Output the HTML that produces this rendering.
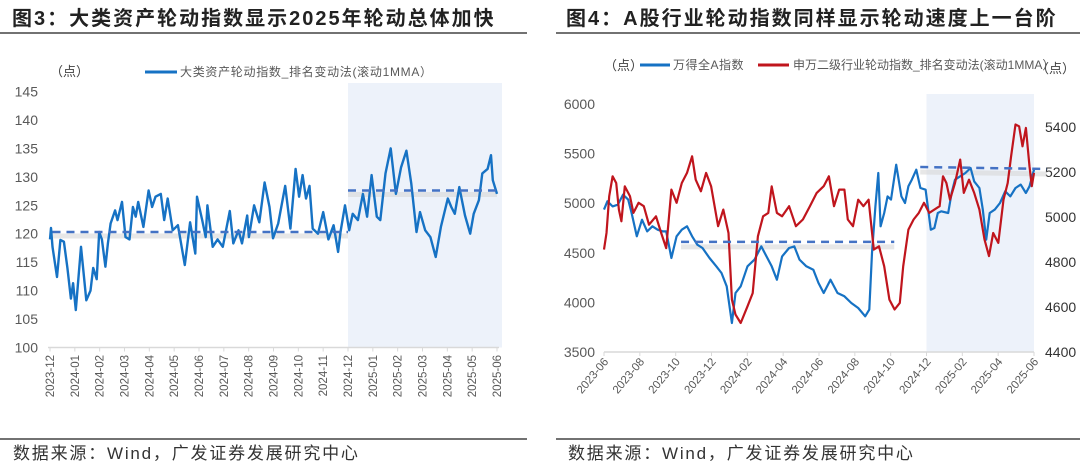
<!DOCTYPE html>
<html><head><meta charset="utf-8">
<style>
body{margin:0;background:#fff;width:1080px;height:469px;overflow:hidden;font-family:"Liberation Sans","Noto Sans CJK SC",sans-serif;}
svg{position:absolute;left:0;top:0}
</style></head>
<body>
<svg id="chart" width="1080" height="469" viewBox="0 0 1080 469">
  <text x="12" y="25" font-size="20" font-weight="bold" letter-spacing="2" fill="#222" font-family="Liberation Sans,Noto Sans CJK SC,sans-serif">图3：大类资产轮动指数显示2025年轮动总体加快</text>
  <text x="566" y="25" font-size="20" font-weight="bold" letter-spacing="2" fill="#222" font-family="Liberation Sans,Noto Sans CJK SC,sans-serif">图4：A股行业轮动指数同样显示轮动速度上一台阶</text>
  <line x1="0" y1="33" x2="527" y2="33" stroke="#444" stroke-width="1.5"/>
  <line x1="556" y1="33" x2="1080" y2="33" stroke="#444" stroke-width="1.5"/>
  <line x1="0" y1="439" x2="527" y2="439" stroke="#444" stroke-width="1.5"/>
  <line x1="556" y1="439" x2="1080" y2="439" stroke="#444" stroke-width="1.5"/>
  <text x="13" y="459" font-size="17" letter-spacing="1.8" fill="#333" font-family="Liberation Sans,Noto Sans CJK SC,sans-serif">数据来源：Wind，广发证券发展研究中心</text>
  <text x="568" y="459" font-size="17" letter-spacing="1.8" fill="#333" font-family="Liberation Sans,Noto Sans CJK SC,sans-serif">数据来源：Wind，广发证券发展研究中心</text>
  <g id="left"></g>
  <g id="right"></g>
</svg>
<script>
// ---------- Left chart data ----------
const leftMonths = ["2023-12","2024-01","2024-02","2024-03","2024-04","2024-05","2024-06","2024-07","2024-08","2024-09","2024-10","2024-11","2024-12","2025-01","2025-02","2025-03","2025-04","2025-05","2025-06"];
const leftYTicks = [100,105,110,115,120,125,130,135,140,145];
const leftT = [0,.04,.1,.28,.42,.56,.7,.84,.93,1.04,1.25,1.46,1.63,1.74,1.88,1.98,2.09,2.23,2.33,2.44,2.62,2.72,2.9,3.04,3.2,3.34,3.45,3.55,3.76,3.97,4.11,4.25,4.46,4.6,4.74,4.94,5.15,5.43,5.64,5.85,5.92,6.13,6.27,6.34,6.55,6.75,6.96,7.24,7.38,7.59,7.73,7.94,8.01,8.22,8.43,8.64,8.84,8.98,9.19,9.47,9.68,9.89,10.03,10.17,10.31,10.45,10.58,10.79,11,11.21,11.42,11.6,11.7,11.88,12.05,12.19,12.4,12.6,12.77,12.95,13.16,13.3,13.51,13.72,13.93,14.14,14.35,14.55,14.76,14.9,15.11,15.32,15.53,15.74,16.02,16.16,16.3,16.48,16.71,16.92,17.06,17.27,17.41,17.62,17.76,17.83,18];
const leftVals = [119,121,117.7,112.4,118.9,118.6,114,108.6,111.3,106.6,117.7,108.3,110,114,112,120.3,119,114.2,118.3,121.8,124.1,122.4,125.6,119.4,119,124.7,123,125.6,121.2,127.6,124.7,126.5,127,122.4,126.2,120.6,121.5,114.5,122,116.5,126.5,122.4,119.4,125,117.7,119,117.7,124,118.3,120.6,118.3,123.2,119.4,125,122,129,124.7,119.2,121.8,128.4,120.9,131.4,126.5,130.3,126.2,128.4,120.9,120,123.8,119,121.5,116.8,120.3,125,120.6,123.5,122.4,127,123,130.3,123,122.4,130.6,135,127,131.7,134.6,128.8,120.3,123.8,120.6,119.4,115.9,121.2,126.2,124.7,123.5,128.2,123.2,120,123.5,125.9,130.6,131.4,133.8,129.4,127];
const leftAvgPeriods = [[0.1,12.0,120.3],[12.0,18.0,127.6]];

// ---------- Right chart data ----------
const rightMonths = ["2023-06","2023-08","2023-10","2023-12","2024-02","2024-04","2024-06","2024-08","2024-10","2024-12","2025-02","2025-04","2025-06"];
const rightYTicksL = [3500,4000,4500,5000,5500,6000];
const rightYTicksR = [4400,4600,4800,5000,5200,5400];
const windT = [0,.19,.48,.77,1.06,1.35,1.54,1.83,2.12,2.41,2.7,2.99,3.28,3.47,3.76,4.05,4.34,4.63,4.92,5.21,5.5,5.89,6.27,6.56,6.85,7.14,7.34,7.63,8.01,8.4,8.78,9.07,9.36,9.65,9.94,10.33,10.62,10.91,11.29,11.68,11.97,12.26,12.64,13.03,13.42,13.8,14.19,14.58,14.81,14.96,15.15,15.31,15.44,15.64,15.83,16.02,16.31,16.6,16.8,16.99,17.18,17.43,17.66,17.95,18.24,18.44,18.63,18.82,19.21,19.4,19.59,19.88,20.17,20.46,20.66,20.95,21.14,21.33,21.53,21.81,22.1,22.39,22.68,22.97,23.26,23.55,23.75,24];
const windVals = [4935,5019,4968,4985,5086,5036,4901,4666,4834,4716,4767,4733,4716,4716,4448,4666,4733,4767,4666,4582,4548,4448,4364,4296,4162,3792,4095,4162,4364,4431,4565,4464,4364,4229,4464,4548,4565,4431,4364,4330,4196,4095,4229,4095,4061,3994,3944,3860,3927,4498,4968,5304,4767,4901,5069,5036,5388,5069,5002,5170,5237,5338,5153,5136,4733,4750,4901,4918,4901,5103,5237,5271,5304,5355,5220,5153,4935,4632,4901,4935,5002,5120,5069,5153,5187,5103,5170,5338];
const rotT = [0,.14,.29,.48,.68,.83,.97,1.16,1.45,1.64,1.93,2.22,2.51,2.9,3.19,3.47,3.76,4.05,4.34,4.63,4.92,5.12,5.41,5.7,5.98,6.37,6.66,6.95,7.14,7.34,7.63,8.01,8.3,8.59,8.88,9.17,9.36,9.65,9.94,10.33,10.71,11.1,11.49,11.87,12.26,12.55,12.84,13.13,13.42,13.61,13.9,14.19,14.48,14.77,15.06,15.35,15.64,15.93,16.22,16.51,16.7,16.99,17.28,17.57,17.86,18.15,18.44,18.73,18.92,19.11,19.31,19.59,19.88,20.08,20.37,20.66,20.95,21.24,21.49,21.72,22.01,22.3,22.53,22.72,22.97,23.17,23.36,23.55,23.75,23.88,24];
const rotVals = [4855,4929,5092,5181,5151,5033,4981,5136,5092,5018,5063,5048,4966,5003,4929,4862,5122,5063,5151,5196,5270,5166,5114,5196,5137,4959,5033,4929,4633,4566,4529,4603,4662,4914,5003,5018,5136,5018,5003,5048,4959,4989,5048,5107,5137,5181,5048,5122,5122,4989,4959,5077,5048,5077,4855,4870,4781,4633,4589,4618,4781,4944,4989,5018,5063,5018,5033,5048,5181,5151,5077,5151,5255,5107,5166,5107,5033,4900,4826,4929,4885,5077,5151,5270,5411,5403,5314,5396,5225,5137,5196];
const rightAvgPeriods = [[4.3,16.2,4610],[17.65,24.7,5365,5345]];

const NS = "http://www.w3.org/2000/svg";
function mk(tag, attrs, parent, text){
  const e = document.createElementNS(NS, tag);
  for (const k in attrs) e.setAttribute(k, attrs[k]);
  if (text !== undefined) e.textContent = text;
  parent.appendChild(e);
  return e;
}
const FONT = "Liberation Sans, Noto Sans CJK SC, sans-serif";

// ===== LEFT =====
(function(){
  const g = document.getElementById('left');
  const x0 = 50, x1 = 497, yTop = 91.5, yBot = 347.5;
  const xS = m => x0 + (x1 - x0) * m / 18;
  const yS = v => yBot - (v - 100) * (yBot - yTop) / 45;
  const shade = mk('rect', {x: xS(12), y: 83, width: 502 - xS(12), height: yBot - 83, fill: '#edf2fa'}, g);
  
  
  const ax = mk('line', {x1: x0 - 2, y1: yBot, x2: x1 + 2, y2: yBot, stroke: '#d9d9d9', 'stroke-width': 1.5}, g);
  
  
  leftYTicks.forEach(v => {
    const t = mk('text', {x: 38, y: yS(v) + 5, 'font-size': 14, fill: '#595959', 'text-anchor': 'end', 'font-family': FONT}, g, String(v));
    
    
  });
  leftMonths.forEach((m, i) => {
    const x = xS(i);
    const tk = mk('line', {x1: x, y1: yBot, x2: x, y2: yBot + 4, stroke: '#d9d9d9'}, g);
    
    
    const t = mk('text', {x: 0, y: 0, 'font-size': 11.5, fill: '#595959', 'text-anchor': 'end', 'font-family': FONT, transform: `translate(${x + 4},355) rotate(-90)`}, g, m);
    
    
  });
  leftAvgPeriods.forEach(p => {
    const sh = mk('line', {x1: xS(p[0]), y1: yS(p[2]) + 4, x2: xS(p[1]), y2: yS(p[2]) + 4, stroke: '#d8d8d8', 'stroke-width': 5, opacity: 0.6}, g);
    
    
  });
  let d = '';
  leftT.forEach((t, i) => { d += (i ? 'L' : 'M') + xS(t).toFixed(1) + ',' + yS(leftVals[i]).toFixed(1); });
  const ln = mk('path', {d, fill: 'none', stroke: '#1672c4', 'stroke-width': 2.4, 'stroke-linejoin': 'round'}, g);
  
  
  leftAvgPeriods.forEach(p => {
    const dl = mk('line', {x1: xS(p[0]), y1: yS(p[2]), x2: xS(p[1]), y2: yS(p[2]), stroke: '#4472c4', 'stroke-width': 2.5, 'stroke-dasharray': '8,6'}, g);
    
    
  });
  const u = mk('text', {x: 50, y: 76, 'font-size': 13, fill: '#404040', 'font-family': FONT}, g, '（点）');
  
  
  const lg = mk('line', {x1: 145, y1: 72, x2: 177, y2: 72, stroke: '#1672c4', 'stroke-width': 3}, g);
  
  
  const lt = mk('text', {x: 180, y: 76, 'font-size': 12, 'letter-spacing': 0.7, fill: '#595959', 'font-family': FONT}, g, '大类资产轮动指数_排名变动法(滚动1MMA）');
  
  
})();

// ===== RIGHT =====
(function(){
  const g = document.getElementById('right');
  const x0 = 604, x1 = 1034, yBot = 352;
  const xS = m => x0 + (x1 - x0) * m / 24;
  const yL = v => yBot - (v - 3500) * (yBot - 104) / 2500;
  const yR = v => yBot - (v - 4400) * (yBot - 127) / 1000;
  const shade = mk('rect', {x: xS(18), y: 94, width: 1034 - xS(18), height: yBot - 94, fill: '#edf2fa'}, g);
  
  
  const ax = mk('line', {x1: x0, y1: yBot, x2: x1, y2: yBot, stroke: '#d9d9d9', 'stroke-width': 1.5}, g);
  
  
  rightYTicksL.forEach(v => {
    const t = mk('text', {x: 595, y: yL(v) + 5, 'font-size': 14, fill: '#595959', 'text-anchor': 'end', 'font-family': FONT}, g, String(v));
    
    
  });
  rightYTicksR.forEach(v => {
    const t = mk('text', {x: 1045, y: yR(v) + 5, 'font-size': 14, fill: '#333', 'font-family': FONT}, g, String(v));
    
    
  });
  rightMonths.forEach((m, i) => {
    const x = xS(i * 2);
    const tk = mk('line', {x1: x, y1: yBot, x2: x, y2: yBot + 4, stroke: '#d9d9d9'}, g);
    
    
    const t = mk('text', {x: 0, y: 0, 'font-size': 11.5, fill: '#595959', 'text-anchor': 'end', 'font-family': FONT, transform: `translate(${x + 5},362) rotate(-50)`}, g, m);
    
    
  });
  rightAvgPeriods.forEach(p => {
    const e = p.length > 3 ? p[3] : p[2];
    const sh = mk('line', {x1: xS(p[0]), y1: yL(p[2]) + 5, x2: xS(p[1]), y2: yL(e) + 5, stroke: '#d8d8d8', 'stroke-width': 5, opacity: 0.6}, g);
    
    
  });
  let d1 = '';
  windT.forEach((t, i) => { d1 += (i ? 'L' : 'M') + xS(t).toFixed(1) + ',' + yL(windVals[i]).toFixed(1); });
  const b = mk('path', {d: d1, fill: 'none', stroke: '#1672c4', 'stroke-width': 2.2, 'stroke-linejoin': 'round'}, g);
  
  
  let d2 = '';
  rotT.forEach((t, i) => { d2 += (i ? 'L' : 'M') + xS(t).toFixed(1) + ',' + yR(rotVals[i]).toFixed(1); });
  const r = mk('path', {d: d2, fill: 'none', stroke: '#c0151d', 'stroke-width': 2.2, 'stroke-linejoin': 'round'}, g);
  
  
  rightAvgPeriods.forEach(p => {
    const e = p.length > 3 ? p[3] : p[2];
    const dl = mk('line', {x1: xS(p[0]), y1: yL(p[2]), x2: xS(p[1]), y2: yL(e), stroke: '#4472c4', 'stroke-width': 2.5, 'stroke-dasharray': '8,6'}, g);
    
    
  });
  const u1 = mk('text', {x: 604, y: 70, 'font-size': 13, fill: '#404040', 'font-family': FONT}, g, '（点）');
  
  
  const u2 = mk('text', {x: 1036, y: 73, 'font-size': 13, fill: '#404040', 'font-family': FONT}, g, '（点）');
  
  
  const s1 = mk('line', {x1: 640, y1: 65, x2: 670, y2: 65, stroke: '#1672c4', 'stroke-width': 3}, g);
  
  
  const t1 = mk('text', {x: 673, y: 69, 'font-size': 12, 'letter-spacing': 0.5, fill: '#595959', 'font-family': FONT}, g, '万得全A指数');
  
  
  const s2 = mk('line', {x1: 758, y1: 65, x2: 789, y2: 65, stroke: '#c0151d', 'stroke-width': 3}, g);
  
  
  const t2 = mk('text', {x: 793, y: 69, 'font-size': 12, fill: '#595959', 'font-family': FONT}, g, '申万二级行业轮动指数_排名变动法(滚动1MMA）');
  
  
})();
</script>
</body></html>
